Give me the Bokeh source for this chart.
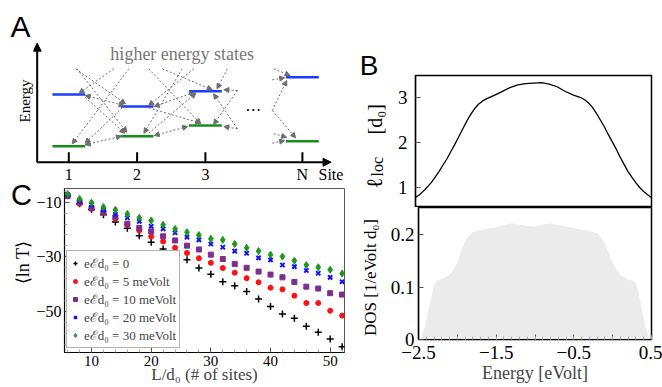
import math
from bokeh.plotting import figure
from bokeh.models import (Range1d, ColumnDataSource, Arrow, NormalHead,
                          Legend, LegendItem, FixedTicker)
from bokeh.layouts import row, column
from bokeh.embed import file_html
from bokeh.resources import INLINE
from bokeh.core.properties import value

SERIF = "Liberation Serif"
SANS = "Liberation Sans"
BLUE_LVL = "#1a3cff"
GREEN_LVL = "#14901a"
ARROW_GRAY = "#6e6e6e"

# ---------------- Panel A : schematic (site index, energy in arbitrary units)
site_pos = [1.0, 2.0, 3.0, 4.42]
site_labels = ["1", "2", "3", "N"]
upper_E = [67.7, 55.7, 71.0, 85.0]
lower_E = [16.0, 26.0, 36.7, 21.0]
level_hw = 0.24
tick_len = 10.0
# single-headed hops (tail -> head)
hop1_x0 = [1.10, 1.12, 1.66, 1.88, 1.24, 1.78, 2.17, 2.37, 2.66, 2.83, 3.32, 2.17, 2.17,
           3.47, 3.47, 3.47, 3.47, 4.00, 3.98, 3.98, 3.98, 4.00, 3.98]
hop1_y0 = [93.4, 93.4, 93.4, 93.4, 65.0, 54.4, 93.4, 93.4, 93.4, 93.4, 93.4, 54.4, 29.0,
           71.7, 71.7, 33.4, 33.4, 93.4, 82.4, 51.7, 51.7, 28.4, 19.0]
hop1_x1 = [1.83, 1.85, 1.15, 1.05, 1.82, 1.24, 2.93, 3.10, 2.10, 2.17, 3.17, 2.93, 2.86,
           3.27, 3.12, 3.27, 3.12, 4.24, 4.16, 4.19, 4.32, 4.19, 4.16]
hop1_y1 = [58.4, 30.0, 69.0, 18.4, 29.0, 19.0, 38.4, 72.4, 29.0, 56.7, 73.4, 39.0, 69.0,
           72.4, 37.7, 35.7, 68.4, 86.7, 84.4, 81.7, 24.4, 25.0, 21.7]
# double-headed hops between neighbouring sites
hop2_x0 = [1.24, 1.24, 2.25, 2.25]
hop2_y0 = [66.7, 17.4, 55.7, 26.7]
hop2_x1 = [1.81, 1.77, 2.84, 2.74]
hop2_y1 = [56.7, 26.0, 70.0, 35.7]

# ---------------- Panel B : localisation length and DOS vs energy
ell_E = [-2.50, -2.45, -2.40, -2.35, -2.30, -2.25, -2.20, -2.15, -2.10, -2.05, -2.00,
         -1.95, -1.90, -1.85, -1.80, -1.75, -1.70, -1.65, -1.60, -1.50, -1.40, -1.30,
         -1.20, -1.10, -1.00, -0.90, -0.80, -0.70, -0.60, -0.50, -0.40, -0.35, -0.30,
         -0.25, -0.20, -0.15, -0.10, -0.05, 0.00, 0.05, 0.10, 0.15, 0.20, 0.25, 0.30,
         0.35, 0.40, 0.45, 0.50]
ell_val = [0.78, 0.84, 0.92, 1.01, 1.11, 1.23, 1.36, 1.50, 1.64, 1.80, 1.96,
           2.13, 2.30, 2.47, 2.62, 2.75, 2.85, 2.92, 2.97, 3.05, 3.13, 3.22,
           3.28, 3.31, 3.32, 3.33, 3.30, 3.24, 3.14, 3.06, 3.00, 2.95, 2.88,
           2.78, 2.65, 2.50, 2.35, 2.18, 2.02, 1.86, 1.68, 1.52, 1.36, 1.23, 1.11,
           1.00, 0.91, 0.84, 0.78]
dos_E = [-2.50, -2.47, -2.42, -2.38, -2.34, -2.30, -2.27, -2.22, -2.16, -2.10, -2.05,
         -2.00, -1.95, -1.90, -1.85, -1.80, -1.70, -1.60, -1.50, -1.40, -1.30, -1.20,
         -1.10, -1.00, -0.90, -0.80, -0.70, -0.60, -0.50, -0.40, -0.30, -0.20, -0.15,
         -0.10, -0.05, 0.00, 0.05, 0.10, 0.16, 0.22, 0.27, 0.31, 0.34, 0.38, 0.42,
         0.47, 0.50]
dos_val = [0.000, 0.003, 0.025, 0.050, 0.076, 0.105, 0.112, 0.115, 0.118, 0.124, 0.133,
           0.148, 0.170, 0.188, 0.199, 0.205, 0.209, 0.212, 0.215, 0.219, 0.222, 0.220,
           0.217, 0.216, 0.220, 0.222, 0.219, 0.216, 0.213, 0.210, 0.208, 0.203, 0.195,
           0.182, 0.166, 0.147, 0.133, 0.124, 0.118, 0.114, 0.112, 0.104, 0.085, 0.055,
           0.025, 0.003, 0.000]
B_xticks = [-2.5, -2.0, -1.5, -1.0, -0.5, 0.0, 0.5]
B_xtick_labels = ["−2.5", "", "−1.5", "", "−0.5", "", "0.5"]
B_top_yticks = [1, 2, 3]
B_bot_yticks = [0, 0.1, 0.2]
B_bot_ytick_labels = ["0", "0.1", "0.2"]

# ---------------- Panel C : <ln T> vs system length
L_sites = [6, 8, 10, 12, 14, 16, 18, 20, 22, 24, 26, 28, 30, 32, 34, 36, 38, 40, 42, 44,
           46, 48, 50, 52]
lnT_0 = [-7.6, -10.6, -12.7, -14.6, -17.3, -19.5, -22.3, -24.7, -27.1, -29.3, -31.1, -34.1,
         -36.4, -39.1, -40.6, -42.7, -45.4, -48.2, -50.9, -52.5, -55.4, -57.6, -60.1, -62.9]
lnT_5 = [-7.9, -10.6, -12.4, -14.0, -16.1, -18.3, -20.4, -22.6, -24.4, -26.7, -28.6, -30.5,
         -32.2, -34.1, -35.8, -37.8, -39.3, -41.3, -41.9, -44.2, -46.9, -46.9, -49.7, -51.5]
lnT_10 = [-7.7, -10.0, -12.2, -13.7, -15.5, -17.9, -19.4, -20.7, -22.5, -24.0, -25.9, -27.3,
          -29.2, -30.8, -32.6, -34.0, -35.4, -36.5, -37.5, -39.2, -40.9, -41.6, -43.3, -43.8]
lnT_20 = [-7.2, -9.6, -11.0, -12.8, -14.5, -15.7, -17.0, -18.8, -19.8, -21.2, -22.8, -23.8,
          -25.3, -26.5, -27.9, -28.7, -30.4, -31.1, -33.0, -33.6, -35.0, -36.0, -37.5, -39.1]
lnT_30 = [-7.0, -8.8, -10.2, -11.8, -12.8, -14.3, -15.7, -16.7, -18.3, -19.8, -21.0, -22.0,
          -23.4, -23.8, -25.3, -26.7, -27.9, -29.2, -29.9, -31.4, -33.0, -33.8, -34.7, -36.1]
series_labels = ["eℰd₀ = 0", "eℰd₀ = 5 meVolt", "eℰd₀ = 10 meVolt",
                 "eℰd₀ = 20 meVolt", "eℰd₀ = 30 meVolt"]
C_xticks = [10, 20, 30, 40, 50]
C_yticks = [-10, -30, -50]
C_ytick_labels = ["−10", "−30", "−50"]


def style_axis(ax, size):
    ax.axis_line_color = "black"
    ax.axis_line_width = 1.2
    ax.major_tick_in = 5
    ax.major_tick_out = 0
    ax.minor_tick_in = 3
    ax.minor_tick_out = 0
    ax.major_tick_line_color = "#555555"
    ax.minor_tick_line_color = "#aaaaaa"
    ax.major_label_text_font = SERIF
    ax.major_label_text_font_size = size
    ax.major_label_text_color = "black"


def bare_figure(w, h, xr, yr):
    p = figure(width=w, height=h, x_range=xr, y_range=yr, output_backend="svg",
               toolbar_location=None, x_axis_location=None, y_axis_location=None,
               min_border=0, title=None, frame_align=False)
    p.grid.visible = False
    p.outline_line_color = None
    return p


def put_text(p, x, y, txt, size, font=SERIF, angle=0.0, align="center",
             baseline="middle", color="black", style="normal"):
    p.text(x=[x], y=[y], text=[txt], angle=angle, text_font=value(font),
           text_font_size=size, text_align=align, text_baseline=baseline,
           text_color=color, text_font_style=style)


# ======================= left label strip (page x 0..33, full height; y in page px)
pL = bare_figure(33, 387, Range1d(0, 33), Range1d(387, 0))
put_text(pL, 20, 26, "A", "30px", font=SANS)
put_text(pL, 24, 100.5, "Energy", "15px", angle=math.pi / 2)
put_text(pL, 21, 194, "C", "29px", font=SANS)
put_text(pL, 22.5, 262, "⟨ln T⟩", "18px", angle=math.pi / 2)

# ======================= Panel A figure (page x 33..345, y 0..183)
pA = bare_figure(312, 183, Range1d(33 / 68.3, 5.051), Range1d(-21.3, 161.7))
axis_x0 = 0.537
pA.add_layout(Arrow(end=NormalHead(size=8, fill_color="black", line_color="black"),
                    x_start=axis_x0, y_start=0, x_end=axis_x0, y_end=119.0,
                    line_width=2, line_color="black"))
pA.add_layout(Arrow(end=NormalHead(size=8, fill_color="black", line_color="black"),
                    x_start=axis_x0, y_start=0, x_end=4.84, y_end=0,
                    line_width=2, line_color="black"))
pA.segment(x0=site_pos, y0=[0] * len(site_pos), x1=site_pos, y1=[tick_len] * len(site_pos),
           line_color="black", line_width=2)
src1 = ColumnDataSource(dict(x0=hop1_x0, y0=hop1_y0, x1=hop1_x1, y1=hop1_y1))
pA.add_layout(Arrow(end=NormalHead(size=5, fill_color=ARROW_GRAY, line_color=ARROW_GRAY),
                    source=src1, x_start="x0", y_start="y0", x_end="x1", y_end="y1",
                    line_color=ARROW_GRAY, line_width=1, line_dash="2 2"))
src2 = ColumnDataSource(dict(x0=hop2_x0, y0=hop2_y0, x1=hop2_x1, y1=hop2_y1))
pA.add_layout(Arrow(end=NormalHead(size=5, fill_color=ARROW_GRAY, line_color=ARROW_GRAY),
                    start=NormalHead(size=5, fill_color=ARROW_GRAY, line_color=ARROW_GRAY),
                    source=src2, x_start="x0", y_start="y0", x_end="x1", y_end="y1",
                    line_color=ARROW_GRAY, line_width=1, line_dash="2 2"))
pA.segment(x0=[s - level_hw for s in site_pos], y0=upper_E,
           x1=[s + level_hw for s in site_pos], y1=upper_E, line_color=BLUE_LVL, line_width=2.5)
pA.segment(x0=[s - level_hw for s in site_pos], y0=lower_E,
           x1=[s + level_hw for s in site_pos], y1=lower_E, line_color=GREEN_LVL, line_width=2.5)
pA.text(x=site_pos, y=[-12.3] * len(site_pos), text=site_labels, text_font=value(SERIF),
        text_font_size="16px", text_align="center", text_baseline="middle", text_color="black")
put_text(pA, 4.656, -12.3, "Site", "16px", align="left")
put_text(pA, 2.66, 108.4, "higher energy states", "18px", color="#777777")
put_text(pA, 3.70, 57.0, "…", "16px", font="DejaVu Sans")

# ======================= Panel C (page x 33..345, y 183..387); frame x 64..344, y 188..352
C_xr = Range1d(5.47, 52.4)
C_yr = Range1d(-65.0, -5.0)
pC = figure(width=312, height=204, x_range=C_xr, y_range=C_yr, output_backend="svg",
            toolbar_location=None, title=None, frame_align=False,
            min_border_left=31, min_border_right=1, min_border_top=5, min_border_bottom=35)
pC.grid.visible = False
pC.outline_line_color = "#555555"
pC.outline_line_width = 1
pC.xaxis.ticker = FixedTicker(ticks=C_xticks,
                              minor_ticks=[v for v in range(6, 53, 2) if v % 10])
pC.yaxis.ticker = FixedTicker(ticks=C_yticks,
                              minor_ticks=[v for v in range(-62, -5, 4) if v not in C_yticks])
pC.yaxis.major_label_overrides = dict(zip(C_yticks, C_ytick_labels))
style_axis(pC.xaxis[0], "15px")
style_axis(pC.yaxis[0], "16px")
pC.xaxis.major_label_standoff = 3
pC.yaxis.major_label_standoff = 3
pC.xaxis.axis_label = "L/d₀ (# of sites)"
pC.xaxis.axis_label_text_font = SERIF
pC.xaxis.axis_label_text_font_size = "17px"
pC.xaxis.axis_label_text_font_style = "normal"
pC.xaxis.axis_label_standoff = -4

r0 = pC.scatter(L_sites, lnT_0, marker="cross", size=7, line_color="black", line_width=1.5)
r5 = pC.scatter(L_sites, lnT_5, marker="circle", size=5, fill_color="#ff1010", line_color="#ff1010")
r10 = pC.scatter(L_sites, lnT_10, marker="square", size=5, fill_color="#7d2e8d", line_color="#7d2e8d")
r20 = pC.scatter(L_sites, lnT_20, marker="x", size=6, line_color="#1010ff", line_width=2)
r30 = pC.scatter(L_sites, lnT_30, marker="diamond", size=7, fill_color="#1a9a1a", line_color="#1a9a1a")
leg = Legend(items=[LegendItem(label=l, renderers=[r]) for l, r in
                    zip(series_labels, [r0, r5, r10, r20, r30])],
             location=(2, 4), label_text_font=SERIF, label_text_font_size="13px",
             border_line_color="#666666", border_line_width=1.5, padding=3, spacing=0,
             glyph_height=12, label_height=12, glyph_width=10, label_standoff=4, margin=0,
             background_fill_alpha=1)
pC.add_layout(leg, "center")

# ======================= Panel B (page x 345..662); frame x 415..651
B_xr = Range1d(-2.5, 0.5)
Bt_yr = Range1d(0.556, 3.49)
Bb_yr = Range1d(0.0, 0.2524)
Bt_scale = 132.0 / (Bt_yr.end - Bt_yr.start)
Bb_scale = 132.0 / (Bb_yr.end - Bb_yr.start)
B_xminor = [round(-2.5 + 0.1 * i, 2) for i in range(31)]

pBtl = bare_figure(42, 207, Range1d(-70, -28), Range1d(Bt_yr.start, Bt_yr.end + 75 / Bt_scale))
put_text(pBtl, -46.5, Bt_yr.end + 10 / Bt_scale, "B", "28px", font=SANS)
put_text(pBtl, -41, Bt_yr.end - 113 / Bt_scale, "ℓ", "22px", angle=math.pi / 2,
         align="left", baseline="alphabetic")
put_text(pBtl, -38, Bt_yr.end - 101 / Bt_scale, "loc", "16px", angle=math.pi / 2,
         align="left", baseline="alphabetic")
put_text(pBtl, -41, Bt_yr.end - 59 / Bt_scale, "[d₀]", "20px", angle=math.pi / 2,
         align="left", baseline="alphabetic")

pBt = figure(width=275, height=207, x_range=B_xr, y_range=Bt_yr, output_backend="svg",
             toolbar_location=None, title=None, x_axis_location=None, frame_align=False,
             min_border_left=28, min_border_right=11, min_border_top=75, min_border_bottom=0)
pBt.grid.visible = False
pBt.outline_line_color = "black"
pBt.outline_line_width = 1.5
pBt.yaxis.ticker = FixedTicker(ticks=B_top_yticks)
style_axis(pBt.yaxis[0], "19px")
pBt.yaxis.major_label_standoff = 8
pBt.line(ell_E, ell_val, line_color="black", line_width=1.3)

pBbl = bare_figure(42, 180, Range1d(-70, -28), Range1d(Bb_yr.start - 48 / Bb_scale, Bb_yr.end))
put_text(pBbl, -45, Bb_yr.end - 70 / Bb_scale, "DOS [1/eVolt d₀]", "17px", angle=math.pi / 2)

pBb = figure(width=275, height=180, x_range=B_xr, y_range=Bb_yr, output_backend="svg",
             toolbar_location=None, title=None, frame_align=False,
             min_border_left=28, min_border_right=11, min_border_top=0, min_border_bottom=48)
pBb.grid.visible = False
pBb.outline_line_color = "black"
pBb.outline_line_width = 1.5
pBb.varea(x=dos_E, y1=[0] * len(dos_E), y2=dos_val, fill_color="#ebebeb")
pBb.xaxis.ticker = FixedTicker(ticks=B_xticks, minor_ticks=B_xminor)
pBb.xaxis.major_label_overrides = dict(zip(B_xticks, B_xtick_labels))
pBb.yaxis.ticker = FixedTicker(ticks=B_bot_yticks)
pBb.yaxis.major_label_overrides = dict(zip(B_bot_yticks, B_bot_ytick_labels))
style_axis(pBb.xaxis[0], "19px")
style_axis(pBb.yaxis[0], "19px")
pBb.xaxis.major_label_standoff = 6
pBb.yaxis.major_label_standoff = 4
pBb.xaxis.axis_label = "Energy [eVolt]"
pBb.xaxis.axis_label_text_font = SERIF
pBb.xaxis.axis_label_text_font_size = "18px"
pBb.xaxis.axis_label_text_font_style = "normal"
pBb.xaxis.axis_label_standoff = 1

layout = row(pL, column(pA, pC), column(row(pBtl, pBt), row(pBbl, pBb)))
open("out.html", "w").write(file_html(layout, INLINE))
